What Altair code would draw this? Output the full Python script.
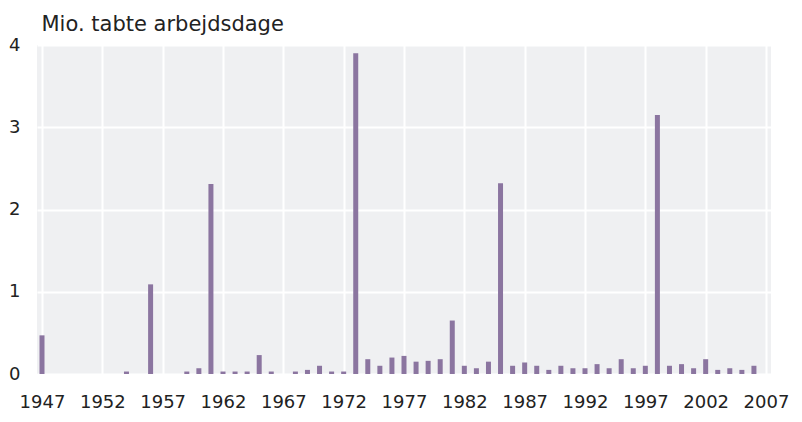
import altair as alt
import pandas as pd

years = list(range(1947, 2007))
values = [
    0.47, 0, 0, 0, 0, 0, 0, 0.03, 0, 1.09,
    0, 0, 0.03, 0.07, 2.31, 0.03, 0.03, 0.03, 0.23, 0.03,
    0, 0.03, 0.05, 0.10, 0.03, 0.03, 3.90, 0.18, 0.10, 0.20,
    0.22, 0.15, 0.16, 0.18, 0.65, 0.10, 0.07, 0.15, 2.32, 0.10,
    0.14, 0.10, 0.05, 0.10, 0.07, 0.07, 0.12, 0.07, 0.18, 0.07,
    0.10, 3.15, 0.10, 0.12, 0.07, 0.18, 0.05, 0.07, 0.05, 0.10,
]
x_ticks = [1947, 1952, 1957, 1962, 1967, 1972, 1977, 1982, 1987, 1992, 1997, 2002, 2007]
y_ticks = [0, 1, 2, 3, 4]
title_text = "Mio. tabte arbejdsdage"

df = pd.DataFrame({"year": years, "value": values})

FONT = "DejaVu Sans"

chart = (
    alt.Chart(df)
    .mark_bar(color="#8B75A0", size=5)
    .encode(
        x=alt.X(
            "year:Q",
            scale=alt.Scale(domain=[1947, 2007], nice=False, zero=False),
            axis=alt.Axis(
                values=x_ticks,
                format="d",
                title=None,
                domain=False,
                ticks=False,
                labelPadding=19,
                labelFontSize=18,
                labelFont=FONT,
                labelColor="#222222",
                grid=True,
                gridColor="#ffffff",
                gridWidth=2,
                labelFlush=False,
            ),
        ),
        y=alt.Y(
            "value:Q",
            scale=alt.Scale(domain=[0, 4], nice=False),
            axis=alt.Axis(
                values=y_ticks,
                title=title_text,
                titleAngle=0,
                titleAlign="left",
                titleBaseline="alphabetic",
                titleX=4,
                titleY=-15,
                titleFont=FONT,
                titleFontSize=21,
                titleFontWeight="normal",
                titleColor="#222222",
                domain=False,
                ticks=False,
                labelPadding=17,
                labelFontSize=18,
                labelFont=FONT,
                labelColor="#222222",
                grid=True,
                gridColor="#ffffff",
                gridWidth=2,
            ),
        ),
    )
    .properties(
        width=734,
        height=329,
        autosize=alt.AutoSizeParams(type="none"),
        padding={"left": 29, "top": 37, "right": 23, "bottom": 36},
    )
    .configure_view(fill="#EFF0F2", stroke=None)
)

chart.save("out.html", embed_options={"renderer": "svg", "actions": False})
